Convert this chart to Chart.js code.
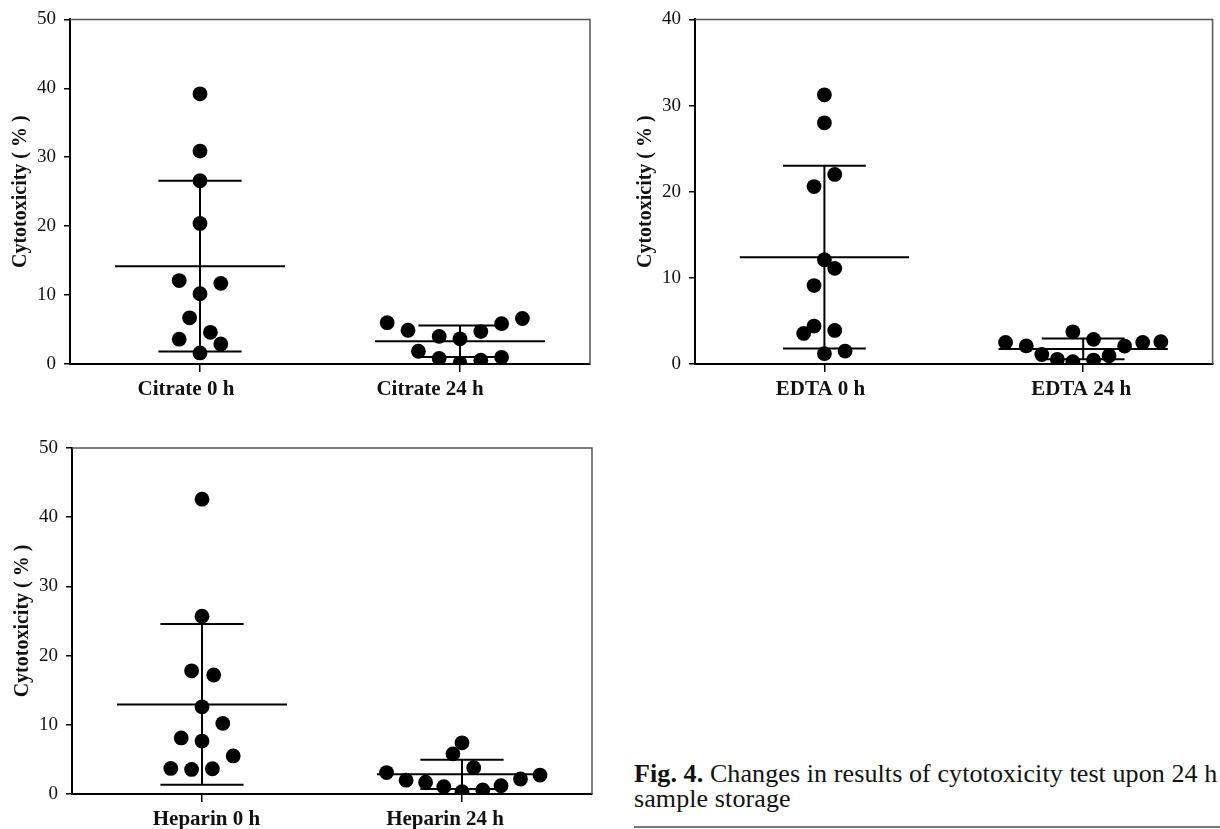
<!DOCTYPE html>
<html>
<head>
<meta charset="utf-8">
<script src="https://cdn.jsdelivr.net/npm/chart.js@4.4.1/dist/chart.umd.min.js"></script>
<style>
  html, body { margin: 0; padding: 0; background: #fff; overflow: hidden; }
  body { width: 1220px; height: 829px; position: relative; font-family: 'Liberation Serif', serif; }
  .panel { position: absolute; }
  #caption { position: absolute; left: 634px; top: 761px; font-size: 26px; line-height: 25px; letter-spacing: 0.1px; color: #111; white-space: nowrap; }
  #rule { position: absolute; left: 634px; top: 826px; width: 586px; height: 2px; background: #777; }
</style>
</head>
<body>
<div class="panel" style="left:0px; top:0px"><canvas id="citrateChart" width="610" height="410"></canvas></div>
<div class="panel" style="left:625px; top:0px"><canvas id="edtaChart" width="595" height="410"></canvas></div>
<div class="panel" style="left:2px; top:420px"><canvas id="heparinChart" width="610" height="409"></canvas></div>
<div id="caption"><b>Fig. 4.</b> Changes in results of cytotoxicity test upon 24 h<br>sample storage</div>
<div id="rule"></div>

<script>
// Values (cytotoxicity, %)
const citrateLabels = ['Citrate 0 h', 'Citrate 24 h'];
const citrate0h = [39.2, 30.9, 26.6, 20.4, 12.1, 11.7, 10.2, 6.7, 3.6, 4.6, 2.9, 1.6];
const citrate0hJitter = [0, 0, 0, 0, -0.08, 0.08, 0, -0.04, -0.08, 0.04, 0.08, 0];
const citrate24h = [6.0, 4.9, 4.0, 3.65, 4.7, 5.85, 6.6, 1.85, 0.8, 0.1, 0.55, 0.97];
const citrate24hJitter = [-0.28, -0.2, -0.08, 0, 0.08, 0.16, 0.24, -0.16, -0.08, 0, 0.08, 0.16];
const citrateMean = [14.2, 3.3];
const citrateSd = [12.4, 2.3];

const edtaLabels = ['EDTA 0 h', 'EDTA 24 h'];
const edta0h = [31.25, 28.0, 22.0, 20.6, 12.1, 11.1, 9.1, 4.4, 3.55, 3.9, 1.2, 1.5];
const edta0hJitter = [0, 0, 0.04, -0.04, 0, 0.04, -0.04, -0.04, -0.08, 0.04, 0, 0.08];
const edta24h = [2.5, 2.1, 1.1, 0.54, 0.27, 3.74, 2.86, 0.46, 0.96, 2.08, 2.5, 2.58];
const edta24hJitter = [-0.3, -0.22, -0.16, -0.1, -0.04, -0.04, 0.04, 0.04, 0.1, 0.16, 0.23, 0.3];
const edtaMean = [12.4, 1.75];
const edtaSd = [10.6, 1.2];

const heparinLabels = ['Heparin 0 h', 'Heparin 24 h'];
const heparin0h = [42.6, 25.7, 17.8, 17.2, 12.6, 10.2, 8.1, 7.65, 5.5, 3.7, 3.55, 3.65];
const heparin0hJitter = [0, 0, -0.04, 0.045, 0, 0.08, -0.08, 0, 0.12, -0.12, -0.04, 0.04];
const heparin24h = [7.4, 5.8, 3.8, 3.1, 2.0, 1.7, 1.06, 0.34, 0.58, 1.2, 2.17, 2.74];
const heparin24hJitter = [0, -0.035, 0.045, -0.29, -0.215, -0.14, -0.07, 0, 0.08, 0.15, 0.225, 0.3];
const heparinMean = [12.95, 2.84];
const heparinSd = [11.6, 2.1];

const yMaxCitrate = 50;
const yMaxEdta = 40;
const yMaxHeparin = 50;

const FONT = 'Liberation Serif';
const MEAN_HALF = 0.327;   // half width of the mean line, x units
const CAP_HALF = 0.16;     // half width of the SD caps
const TICK_LEN = 8;

// grey top/right frame of the plot box
const framePlugin = {
    id: 'frame',
    afterDraw(chart) {
        const { ctx, chartArea: a } = chart;
        ctx.save();
        ctx.strokeStyle = '#555';
        ctx.lineWidth = 1.5;
        ctx.beginPath();
        ctx.moveTo(a.left, a.top);
        ctx.lineTo(a.right, a.top);
        ctx.lineTo(a.right, a.bottom);
        ctx.stroke();
        ctx.restore();
    }
};

function segment(x1, y1, x2, y2) {
    return {
        type: 'line',
        data: [{ x: x1, y: y1 }, { x: x2, y: y2 }],
        borderColor: '#000',
        borderWidth: 2,
        pointRadius: 0,
        fill: false,
        order: 2
    };
}

function makePanel(id, labels, groups, means, sds, yMax, padTop, xHeight, labelShift) {
    const datasets = [];

    groups.forEach((g, i) => {
        const m = means[i];
        const s = sds[i];
        datasets.push(segment(i - MEAN_HALF, m, i + MEAN_HALF, m));
        datasets.push(segment(i, m - s, i, m + s));
        datasets.push(segment(i - CAP_HALF, m + s, i + CAP_HALF, m + s));
        datasets.push(segment(i - CAP_HALF, m - s, i + CAP_HALF, m - s));
        datasets.push({
            type: 'scatter',
            data: g.values.map((v, k) => ({ x: i + g.jitter[k], y: v })),
            backgroundColor: '#000',
            borderWidth: 0,
            pointRadius: 7.4,
            order: 1
        });
    });

    const canvas = document.getElementById(id);
    new Chart(canvas, {
        type: 'scatter',
        data: { datasets },
        plugins: [framePlugin],
        options: {
            responsive: false,
            animation: false,
            layout: { padding: { top: padTop, right: canvas.width - 70 - 520, left: 0, bottom: 0 } },
            plugins: { legend: { display: false }, tooltip: { enabled: false } },
            scales: {
                x: {
                    type: 'linear',
                    min: -0.5,
                    max: 1.5,
                    weight: 0,
                    afterBuildTicks: sc => { sc.ticks = labels.map((l, i) => ({ value: i })); },
                    afterFit: sc => { sc.height = TICK_LEN; },
                    grid: { display: true, drawOnChartArea: false, tickLength: TICK_LEN, color: '#000', lineWidth: 1.5 },
                    border: { color: '#000', width: 2 },
                    ticks: { display: false }
                },
                // category names, slightly off-centre as in the original figure
                xl: {
                    type: 'linear',
                    position: 'bottom',
                    min: -0.5,
                    max: 1.5,
                    weight: 1,
                    afterBuildTicks: sc => { sc.ticks = labels.map((l, i) => ({ value: i + labelShift[i] })); },
                    afterFit: sc => { sc.height = xHeight - TICK_LEN; },
                    grid: { display: false },
                    border: { display: false },
                    ticks: {
                        callback: (v, idx) => labels[idx],
                        color: '#111',
                        padding: -3,
                        maxRotation: 0,
                        font: { family: FONT, size: 21, weight: 'bold' }
                    }
                },
                y: {
                    min: 0,
                    max: yMax,
                    afterFit: sc => { sc.width = 70; },
                    grid: { display: true, drawOnChartArea: false, tickLength: 6, color: '#000', lineWidth: 1.5 },
                    border: { color: '#000', width: 2 },
                    ticks: {
                        stepSize: 10,
                        color: '#111',
                        padding: 8,
                        font: { family: FONT, size: 19 }
                    },
                    title: {
                        display: true,
                        text: 'Cytotoxicity ( % )',
                        color: '#111',
                        padding: { top: 9, bottom: 0 },
                        font: { family: FONT, size: 20, weight: 'bold' }
                    }
                }
            }
        }
    });
}

makePanel('citrateChart', citrateLabels,
    [{ values: citrate0h, jitter: citrate0hJitter }, { values: citrate24h, jitter: citrate24hJitter }],
    citrateMean, citrateSd, yMaxCitrate, 17, 46, [-0.054, -0.115]);

makePanel('edtaChart', edtaLabels,
    [{ values: edta0h, jitter: edta0hJitter }, { values: edta24h, jitter: edta24hJitter }],
    edtaMean, edtaSd, yMaxEdta, 18, 46, [-0.015, -0.008]);

makePanel('heparinChart', heparinLabels,
    [{ values: heparin0h, jitter: heparin0hJitter }, { values: heparin24h, jitter: heparin24hJitter }],
    heparinMean, heparinSd, yMaxHeparin, 28, 35, [0.017, -0.065]);
</script>
</body>
</html>
